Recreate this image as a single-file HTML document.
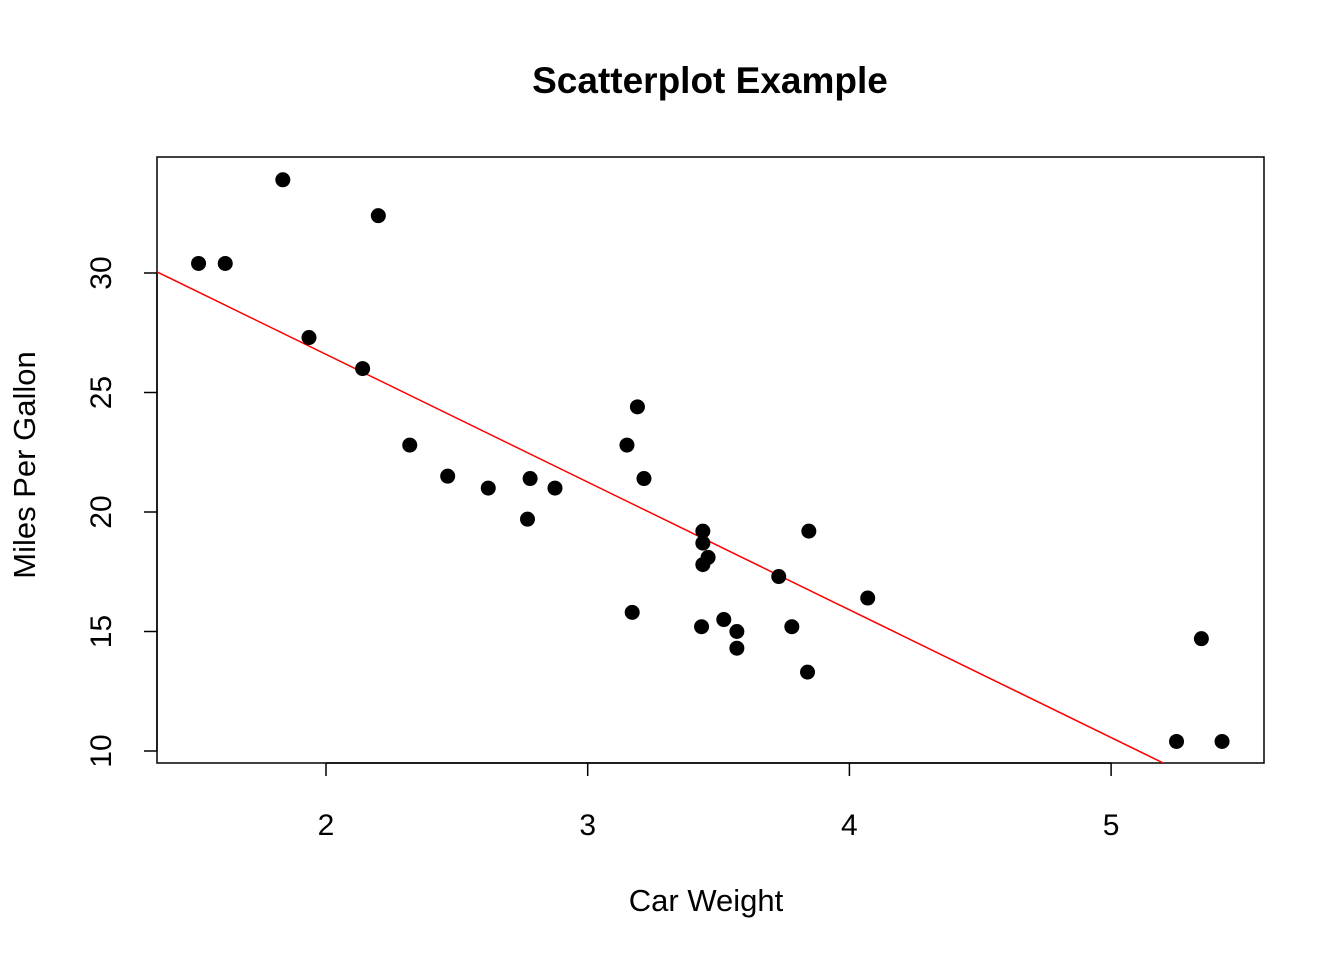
<!DOCTYPE html>
<html><head><meta charset="utf-8"><style>
html,body{margin:0;padding:0;background:#fff;}
svg{display:block;font-family:"Liberation Sans",Arial,sans-serif;}
</style></head><body>
<svg id="chart" width="1344" height="960">
<text x="710" y="93" text-anchor="middle" font-size="37" font-weight="bold">Scatterplot Example</text>
<rect x="157" y="157" width="1107" height="606" fill="none" stroke="#000" stroke-width="1.5"/>
<g id="xaxis"></g>
<g id="yaxis"></g>
<text x="706" y="911" text-anchor="middle" font-size="31">Car Weight</text>
<text transform="translate(35,465) rotate(-90)" text-anchor="middle" font-size="31">Miles Per Gallon</text>
<defs><clipPath id="clip"><rect x="157" y="157" width="1107" height="606"/></clipPath></defs>
<g id="fit" clip-path="url(#clip)"></g>
<g id="points"></g>
</svg>
<script>
const weights=[2.620,2.875,2.320,3.215,3.440,3.460,3.570,3.190,3.150,3.440,3.440,4.070,3.730,3.780,5.250,5.424,5.345,2.200,1.615,1.835,2.465,3.520,3.435,3.840,3.845,1.935,2.140,1.513,3.170,2.770,3.570,2.780];
const mpgs=[21.0,21.0,22.8,21.4,18.7,18.1,14.3,24.4,22.8,19.2,17.8,16.4,17.3,15.2,10.4,10.4,14.7,32.4,30.4,33.9,21.5,15.5,15.2,13.3,19.2,27.3,26.0,30.4,15.8,19.7,15.0,21.4];
const xTicks=[2,3,4,5];
const yTicks=[10,15,20,25,30];
const NS="http://www.w3.org/2000/svg";
const xs=v=>326+(v-2)*261.7;
const ys=v=>751-(v-10)*23.9;
function mk(tag,attrs,parent){const e=document.createElementNS(NS,tag);for(const k in attrs)e.setAttribute(k,attrs[k]);parent.appendChild(e);return e;}
const xa=document.getElementById('xaxis'),ya=document.getElementById('yaxis');
mk('line',{x1:xs(xTicks[0]),x2:xs(xTicks[xTicks.length-1]),y1:763,y2:763,stroke:'#000','stroke-width':1.5},xa);
xTicks.forEach(t=>{
 const l=mk('line',{x1:xs(t),x2:xs(t),y1:763,y2:776,stroke:'#000','stroke-width':1.5},xa);
 
 
 const tx=mk('text',{x:xs(t),y:835,'text-anchor':'middle','font-size':30},xa);tx.textContent=t;
 
 
});
mk('line',{x1:157,x2:157,y1:ys(yTicks[0]),y2:ys(yTicks[yTicks.length-1]),stroke:'#000','stroke-width':1.5},ya);
yTicks.forEach(t=>{
 const l=mk('line',{x1:144,x2:157,y1:ys(t),y2:ys(t),stroke:'#000','stroke-width':1.5},ya);
 
 
 const tx=mk('text',{transform:`translate(111,${ys(t)}) rotate(-90)`,'text-anchor':'middle','font-size':30},ya);tx.textContent=t;
 
 
});
const n=weights.length;const mx=weights.reduce((a,b)=>a+b)/n,my=mpgs.reduce((a,b)=>a+b)/n;
let sxy=0,sxx=0;for(let i=0;i<n;i++){sxy+=(weights[i]-mx)*(mpgs[i]-my);sxx+=(weights[i]-mx)**2;}
const b=sxy/sxx,a=my-b*mx;
const fl=mk('line',{x1:xs(1.0),y1:ys(a+b*1.0),x2:xs(6.0),y2:ys(a+b*6.0),stroke:'#ff0000','stroke-width':1.5},document.getElementById('fit'));


const pg=document.getElementById('points');
for(let i=0;i<n;i++){
 const c=mk('circle',{cx:xs(weights[i]),cy:ys(mpgs[i]),r:7.5,fill:'#000'},pg);
 
 
}
</script>
</body></html>
